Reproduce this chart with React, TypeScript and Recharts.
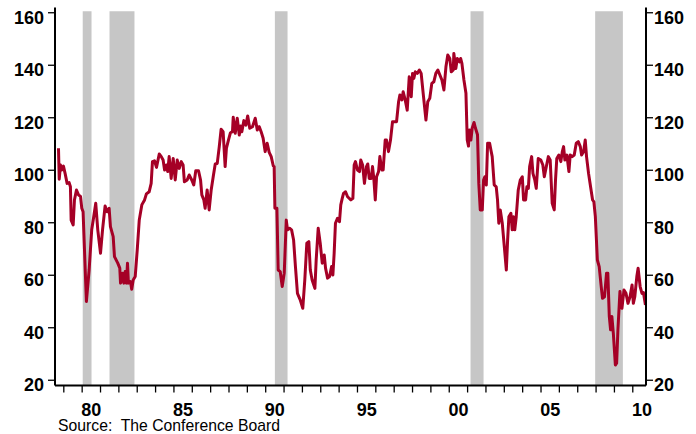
import React from "react";
import {
  ComposedChart,
  Line,
  XAxis,
  YAxis,
  ReferenceArea,
} from "recharts";

// Consumer Confidence Index (1985=100), [decimal year, value]
const cci1978to1984: [number, number][] = [
  [1978.71, 108.4], [1978.75, 96.6], [1978.82, 102], [1978.89, 100.1], [1978.98, 101.6],
  [1979.07, 98.8], [1979.18, 95], [1979.29, 95.3], [1979.36, 93.7], [1979.4, 81],
  [1979.51, 79.2], [1979.58, 88.7], [1979.69, 92.5], [1979.8, 90.6], [1979.91, 90],
  [1979.98, 85.5], [1980.05, 84.2], [1980.23, 50], [1980.38, 62], [1980.52, 77.3],
  [1980.63, 82.3], [1980.74, 87.4], [1980.85, 77.3], [1981.0, 68.4], [1981.11, 77.3],
  [1981.25, 86.4], [1981.36, 84.2], [1981.47, 85.5], [1981.54, 78.5], [1981.69, 74.7],
  [1981.76, 67.1], [1981.94, 64.6], [1982.05, 62.7], [1982.09, 57], [1982.2, 60.8],
  [1982.27, 57], [1982.34, 61.4], [1982.41, 57], [1982.47, 64.6], [1982.52, 57],
  [1982.63, 57.6], [1982.7, 54.7], [1982.78, 58.2], [1982.89, 59.5], [1983.0, 69.6],
  [1983.11, 81], [1983.25, 86.8], [1983.4, 88.7], [1983.5, 91], [1983.65, 91.8],
  [1983.76, 95], [1983.83, 103.3], [1983.94, 103.6], [1984.05, 101.1], [1984.2, 106.2],
  [1984.31, 105.2], [1984.41, 103.9], [1984.49, 100.1], [1984.59, 102], [1984.66, 99.5],
  [1984.74, 105.2], [1984.85, 96.9], [1984.96, 104.5],
];

const cci1985to1991: [number, number][] = [
  [1985.07, 96.3], [1985.18, 103.9], [1985.29, 100.7], [1985.4, 103.3], [1985.5, 102],
  [1985.57, 95.6], [1985.72, 96.3], [1985.83, 98.2], [1985.97, 96.3], [1986.08, 94.4],
  [1986.19, 99.8], [1986.34, 99.8], [1986.45, 96.3], [1986.52, 90.6], [1986.63, 88.7],
  [1986.7, 85.5], [1986.81, 92.5], [1986.92, 84.9], [1987.03, 92.5], [1987.14, 97.5],
  [1987.25, 102.4], [1987.36, 102.6], [1987.47, 109], [1987.57, 115.6], [1987.68, 114.7],
  [1987.79, 101.4], [1987.86, 108.4], [1987.97, 111.5], [1988.08, 114.3], [1988.19, 114.7],
  [1988.23, 120.2], [1988.34, 114.1], [1988.45, 119.8], [1988.56, 113.4], [1988.63, 116.9],
  [1988.7, 114.7], [1988.81, 118.9], [1988.92, 117.2], [1989.02, 120.7], [1989.13, 116],
  [1989.28, 116.6], [1989.43, 119.8], [1989.54, 115.3], [1989.65, 116.6], [1989.75, 114.7],
  [1989.86, 112.2], [1989.97, 107.1], [1990.08, 110.3], [1990.19, 106.8], [1990.3, 105.2],
  [1990.41, 101.7], [1990.46, 101.4], [1990.5, 85.5], [1990.61, 85.5], [1990.68, 62],
  [1990.79, 61.4], [1990.9, 55.7], [1991.01, 60.8], [1991.12, 81], [1991.19, 77.3],
  [1991.3, 77.9], [1991.41, 77.3], [1991.52, 73.4], [1991.62, 63.3], [1991.73, 53.1],
  [1991.88, 50.6],
];

const cci1992to1998: [number, number][] = [
  [1992.02, 47.4], [1992.13, 58.2], [1992.24, 72.2], [1992.35, 72.8], [1992.43, 62],
  [1992.53, 58.2], [1992.68, 55], [1992.75, 65.8], [1992.86, 77.9], [1992.97, 72.2],
  [1993.08, 64.6], [1993.19, 67.7], [1993.26, 62.7], [1993.37, 58.9], [1993.48, 59.5],
  [1993.59, 63.3], [1993.66, 60.1], [1993.73, 68.4], [1993.8, 79.8], [1993.91, 81.7],
  [1994.02, 80.4], [1994.09, 86.8], [1994.17, 89.3], [1994.24, 91.2], [1994.35, 91.8],
  [1994.46, 89.9], [1994.64, 88.7], [1994.75, 89.3], [1994.82, 102], [1994.89, 103.3],
  [1995.0, 100.1], [1995.11, 99.5], [1995.18, 103.9], [1995.28, 102], [1995.38, 95],
  [1995.49, 101.4], [1995.56, 102.4], [1995.64, 96.9], [1995.75, 96.9], [1995.82, 101.4],
  [1995.89, 96.9], [1995.97, 88.7], [1996.04, 97.5], [1996.15, 99.5], [1996.22, 105.2],
  [1996.33, 100.1], [1996.4, 100.1], [1996.51, 111.5], [1996.58, 111.5], [1996.69, 107.1],
  [1996.8, 111.5], [1996.91, 118.5], [1997.13, 118.5], [1997.24, 126.1], [1997.31, 128.7],
  [1997.42, 126.8], [1997.49, 129.9], [1997.6, 126.8], [1997.71, 122.9], [1997.82, 135.6],
  [1997.93, 128], [1998.0, 136.9], [1998.07, 135], [1998.15, 137.5], [1998.26, 136.9],
  [1998.37, 138.2], [1998.47, 136.9], [1998.58, 129.3], [1998.73, 119.1], [1998.83, 126.1],
  [1998.94, 127.4],
];

const cci1999to2004: [number, number][] = [
  [1999.05, 133.1], [1999.16, 133.7], [1999.27, 136.9], [1999.38, 138.2], [1999.49, 136.3],
  [1999.6, 134.4], [1999.71, 130.6], [1999.82, 139.4], [1999.92, 143.9], [2000.03, 142.6],
  [2000.11, 137.5], [2000.22, 138.2], [2000.25, 144.5], [2000.36, 138.8], [2000.44, 142.6],
  [2000.55, 141.3], [2000.62, 142.6], [2000.69, 140.7], [2000.8, 134.4], [2000.91, 129.3],
  [2000.98, 111.5], [2001.05, 109.2], [2001.1, 115.3], [2001.18, 111.5], [2001.25, 116],
  [2001.35, 118.2], [2001.43, 116], [2001.54, 113.5], [2001.61, 95], [2001.69, 84.9],
  [2001.8, 84.9], [2001.87, 96.3], [2001.94, 97.5], [2002.02, 94.4], [2002.09, 110.3],
  [2002.2, 110.3], [2002.27, 107.7], [2002.34, 105.2], [2002.45, 94.4], [2002.56, 93.7],
  [2002.63, 88.7], [2002.7, 79.8], [2002.78, 84.9], [2002.89, 79.8], [2003.0, 70.9],
  [2003.11, 62], [2003.18, 73.4], [2003.25, 82.3], [2003.36, 83.6], [2003.43, 77.3],
  [2003.5, 82.3], [2003.57, 77.3], [2003.65, 82.3], [2003.76, 92.5], [2003.87, 96.3],
  [2003.98, 97.5], [2004.05, 88.7], [2004.16, 88.7], [2004.23, 93.7], [2004.31, 93.1],
  [2004.38, 101.4], [2004.49, 105.2], [2004.56, 98.8], [2004.66, 96.3], [2004.74, 93.1],
  [2004.85, 104.5], [2004.99, 103.9],
];

const cci2005to2010: [number, number][] = [
  [2005.1, 102], [2005.18, 97.5], [2005.29, 101.4], [2005.4, 105.2], [2005.5, 103.9],
  [2005.61, 87.4], [2005.72, 84.9], [2005.79, 96.3], [2005.86, 104.5], [2005.97, 105.8],
  [2006.08, 103.3], [2006.16, 107.1], [2006.23, 109], [2006.3, 103.9], [2006.41, 105.8],
  [2006.52, 99.5], [2006.59, 105.8], [2006.7, 105.2], [2006.81, 105.8], [2006.92, 110.3],
  [2007.03, 110.9], [2007.14, 109], [2007.21, 105.8], [2007.32, 107.1], [2007.41, 111.5],
  [2007.48, 105.2], [2007.59, 98.8], [2007.7, 93.7], [2007.81, 88.7], [2007.88, 88],
  [2007.96, 82.3], [2008.07, 65.8], [2008.17, 63.3], [2008.28, 55.7], [2008.35, 51.2],
  [2008.46, 51.8], [2008.57, 60.8], [2008.64, 60.8], [2008.72, 44.3], [2008.79, 39.2],
  [2008.86, 44.3], [2008.94, 37.9], [2009.05, 25.8], [2009.12, 26.5], [2009.19, 39.2],
  [2009.3, 53.8], [2009.41, 47.4], [2009.52, 54.4], [2009.63, 53.1], [2009.74, 49.3],
  [2009.85, 51.8], [2009.96, 56.3], [2010.03, 49.3], [2010.11, 51.8], [2010.22, 59.5],
  [2010.29, 62.7], [2010.4, 55.7], [2010.5, 53.1], [2010.58, 53.4], [2010.69, 48.7],
];

// NBER recessions (start, end) in decimal years
const recessions: [number, number][] = [
  [1980.03, 1980.51],
  [1981.49, 1982.85],
  [1990.5, 1991.19],
  [2001.16, 2001.87],
  [2007.95, 2009.46],
];

const yTicks = [20, 40, 60, 80, 100, 120, 140, 160];
const yearTicks = Array.from({ length: 32 }, (_, i) => 1979 + i);
const labelYears = [1980, 1985, 1990, 1995, 2000, 2005, 2010];
const labelText = ["80", "85", "90", "95", "00", "05", "10"];

const xDomain: [number, number] = [1978.52, 2010.72];
const yDomain: [number, number] = [18, 162];
const shadeTop = 160.6;

const data = [
  ...cci1978to1984,
  ...cci1985to1991,
  ...cci1992to1998,
  ...cci1999to2004,
  ...cci2005to2010,
].map(([t, v]) => ({ t, v }));

const xTicks = [...yearTicks, ...labelYears.map((y) => y + 0.5)].sort((a, b) => a - b);

const FONT = "'Liberation Sans', Arial, Helvetica, sans-serif";

const XTick = (props: any) => {
  const { x, y, payload } = props;
  const val: number = payload.value;
  if (Number.isInteger(val)) {
    return <line x1={x} x2={x} y1={y} y2={y + 7} stroke="#000" strokeWidth={1.3} />;
  }
  const idx = labelYears.indexOf(Math.floor(val));
  if (idx < 0) return <g />;
  return (
    <text
      x={x}
      y={y + 30.5}
      textAnchor="middle"
      fontFamily={FONT}
      fontWeight="bold"
      fontSize={18}
      fill="#000"
    >
      {labelText[idx]}
    </text>
  );
};

export default function App() {
  return (
    <div style={{ position: "absolute", left: 0, top: 0, width: 696, height: 434, background: "#fff" }}>
      <ComposedChart
        width={696}
        height={434}
        data={data}
        margin={{ top: 7.5, right: 0, bottom: 0, left: 0 }}
      >
        <XAxis
          xAxisId="x"
          dataKey="t"
          type="number"
          domain={xDomain}
          allowDataOverflow
          ticks={xTicks}
          interval={0}
          tickLine={false}
          tickSize={0}
          tickMargin={0}
          tick={<XTick />}
          height={48.5}
          axisLine={{ stroke: "#000", strokeWidth: 2 }}
        />
        <XAxis
          xAxisId="top"
          orientation="top"
          type="number"
          domain={xDomain}
          allowDataOverflow
          tick={false}
          tickLine={false}
          height={0}
          axisLine={{ stroke: "#000", strokeWidth: 2 }}
        />
        <YAxis
          yAxisId="left"
          type="number"
          domain={yDomain}
          allowDataOverflow
          ticks={yTicks}
          interval={0}
          width={55}
          tickSize={7}
          tickMargin={4}
          tickLine={{ stroke: "#000", strokeWidth: 1.3 }}
          axisLine={{ stroke: "#000", strokeWidth: 2 }}
          tick={{ fill: "#000", fontSize: 18, fontWeight: "bold", fontFamily: FONT, dy: 4.5 }}
        />
        <YAxis
          yAxisId="right"
          orientation="right"
          type="number"
          domain={yDomain}
          allowDataOverflow
          ticks={yTicks}
          interval={0}
          width={50}
          tickSize={7}
          tickMargin={1}
          tickLine={{ stroke: "#000", strokeWidth: 1.3 }}
          axisLine={{ stroke: "#000", strokeWidth: 2 }}
          tick={{ fill: "#000", fontSize: 18, fontWeight: "bold", fontFamily: FONT, dy: 4.5 }}
        />
        {recessions.map(([a, b], i) => (
          <ReferenceArea
            key={i}
            xAxisId="x"
            yAxisId="left"
            x1={a}
            x2={b}
            y1={yDomain[0]}
            y2={shadeTop}
            fill="#C6C6C6"
            fillOpacity={1}
            stroke="none"
            ifOverflow="hidden"
          />
        ))}
        <Line
          xAxisId="x"
          yAxisId="left"
          type="linear"
          dataKey="v"
          stroke="#A50026"
          strokeWidth={3}
          strokeLinejoin="round"
          dot={false}
          activeDot={false}
          isAnimationActive={false}
        />
      </ComposedChart>
      <svg
        width={696}
        height={434}
        style={{ position: "absolute", left: 0, top: 0, pointerEvents: "none" }}
      >
        <text
          x={58}
          y={431}
          fontFamily={FONT}
          fontSize={17}
          fill="#000"
          textLength={222}
          lengthAdjust="spacingAndGlyphs"
          style={{ whiteSpace: "pre" }}
        >
          {"Source:  The Conference Board"}
        </text>
      </svg>
    </div>
  );
}
